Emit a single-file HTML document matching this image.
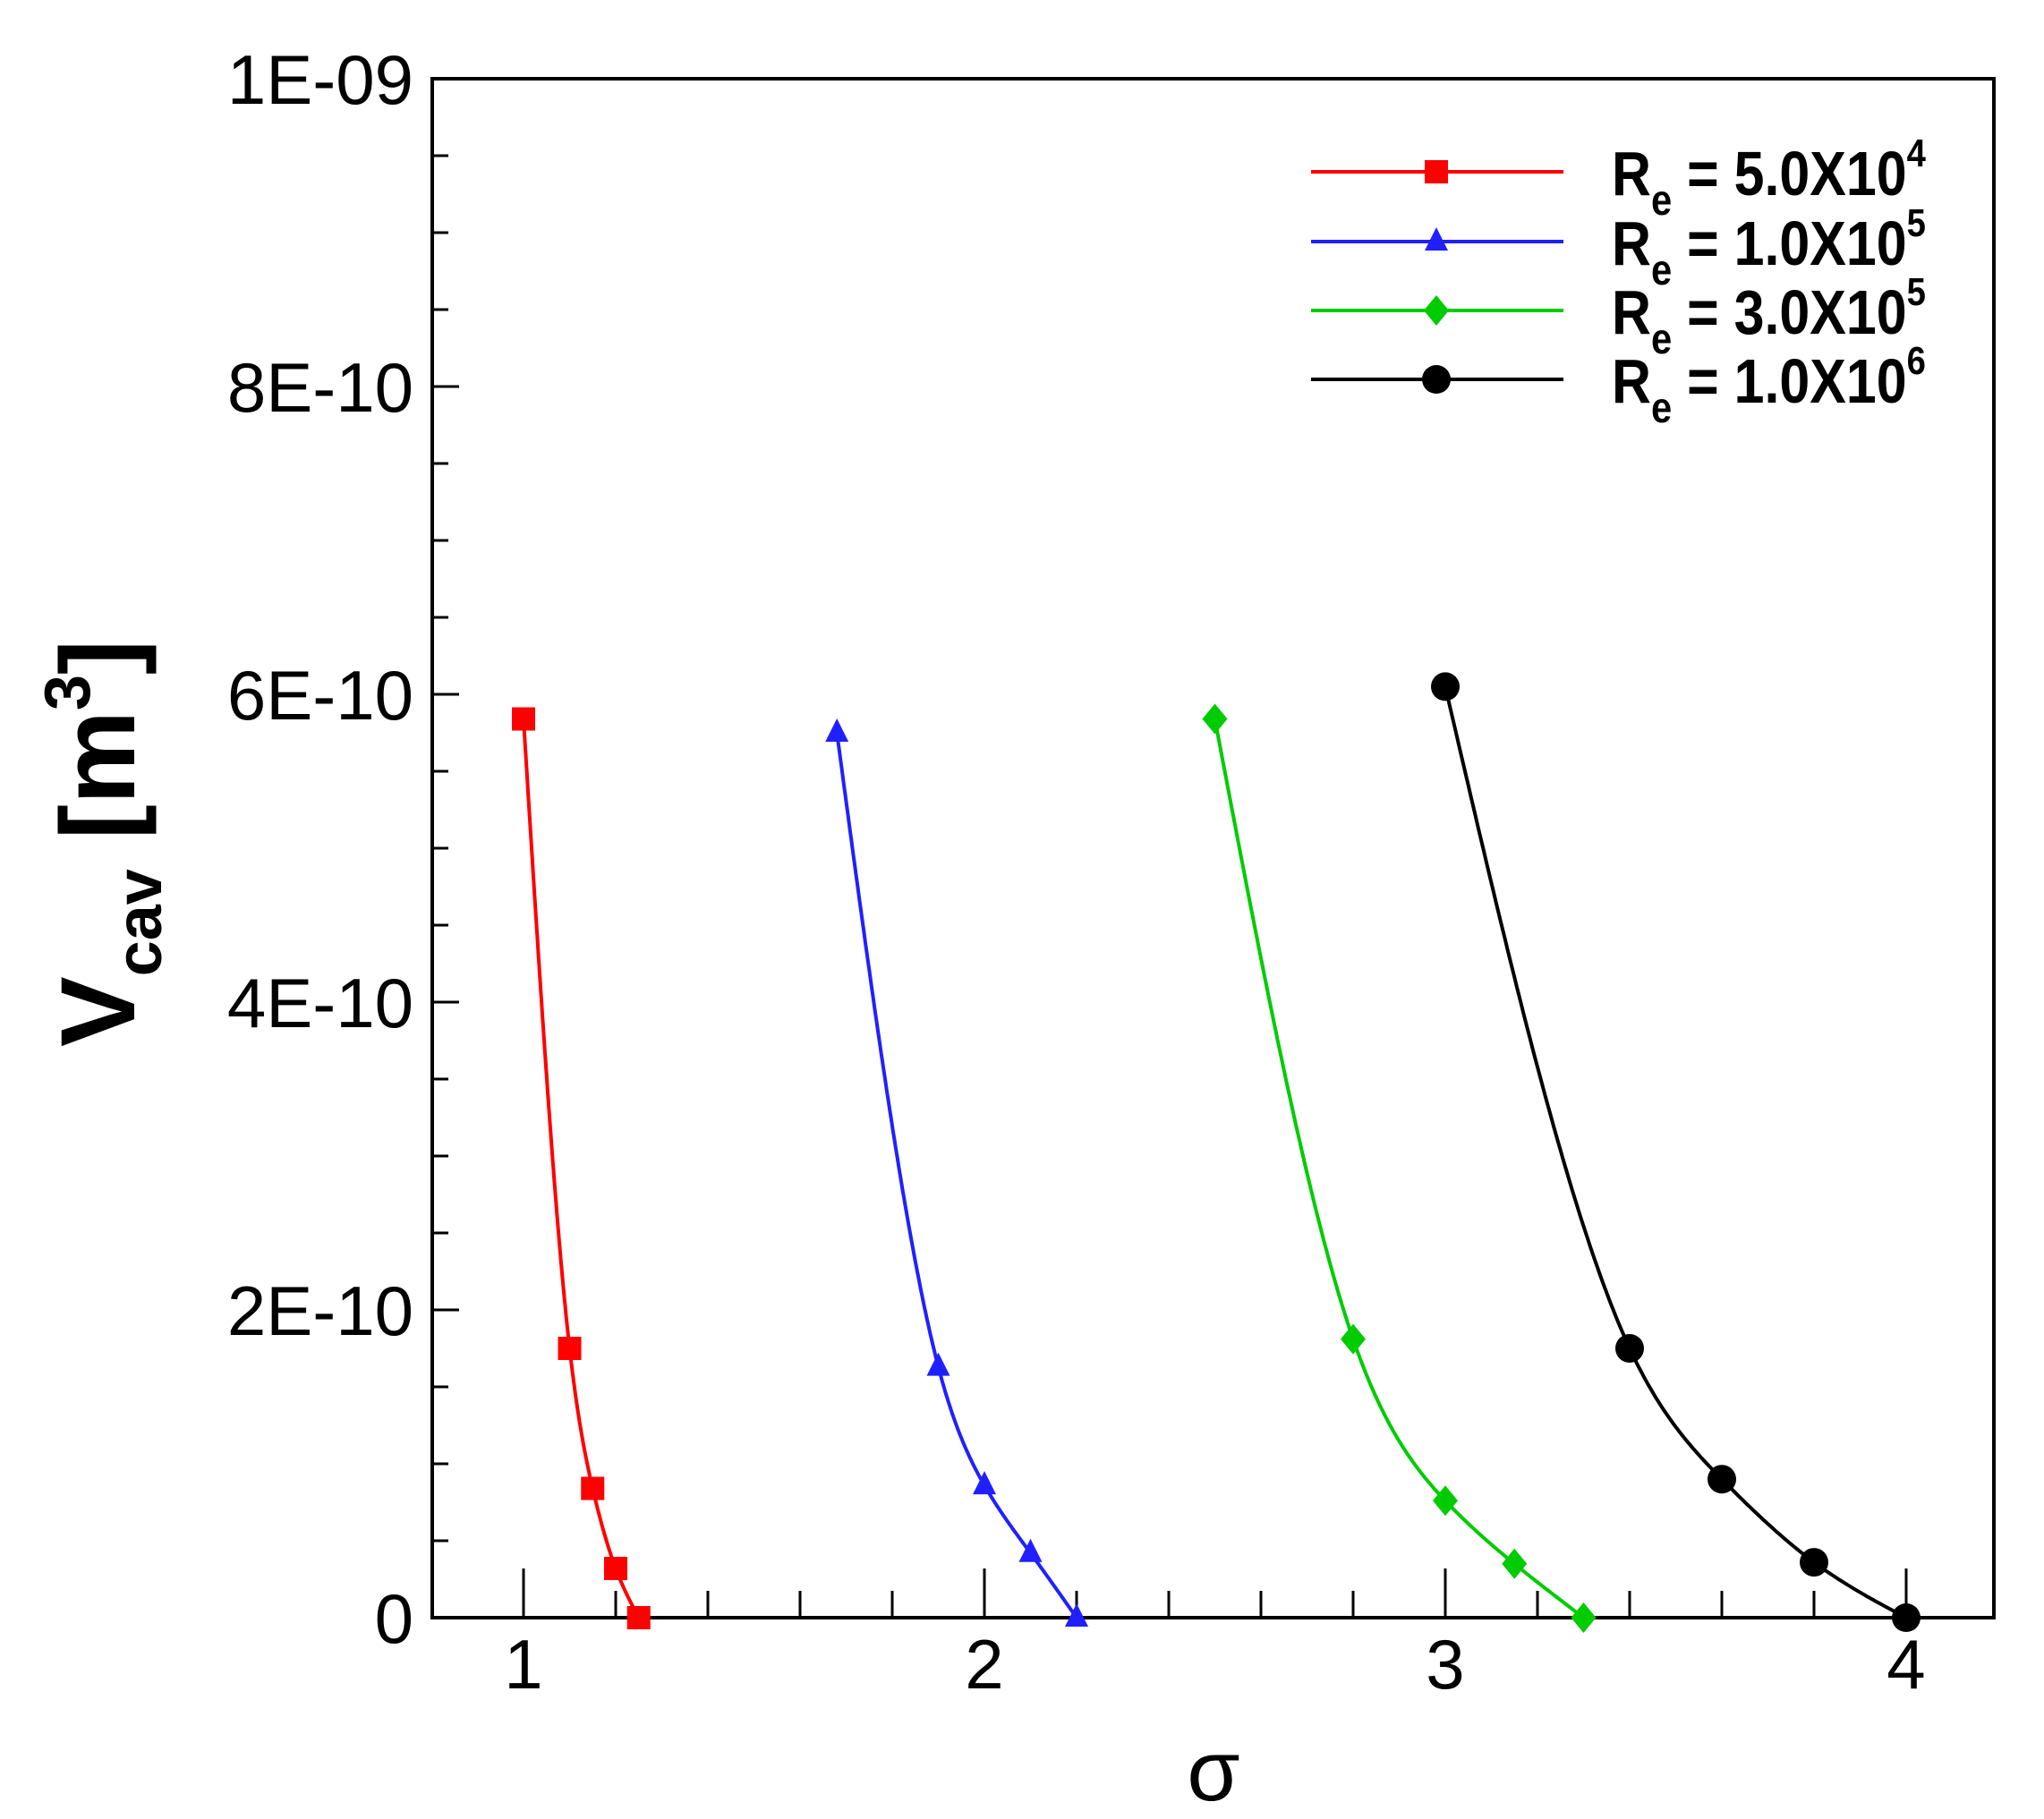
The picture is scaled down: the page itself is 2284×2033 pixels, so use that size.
<!DOCTYPE html>
<html><head><meta charset="utf-8"><style>
html,body{margin:0;padding:0;background:#fff}
svg{display:block}
text{font-family:"Liberation Sans",Arial,sans-serif}
</style></head><body>
<svg id="s" width="2284" height="2033" viewBox="0 0 2284 2033" xmlns="http://www.w3.org/2000/svg">
<rect width="2284" height="2033" fill="#fff"/>
<g id="ticks" stroke="#000" stroke-width="3"></g>
<rect x="483" y="88" width="1745" height="1720" fill="none" stroke="#000" stroke-width="4"/>
<g font-size="78" text-anchor="end">
<text x="462" y="1836">0</text>
<text x="462" y="1492">2E-10</text>
<text x="462" y="1148">4E-10</text>
<text x="462" y="804">6E-10</text>
<text x="462" y="460">8E-10</text>
<text x="462" y="116">1E-09</text>
</g>
<g font-size="78" text-anchor="middle">
<text x="585" y="1887">1</text>
<text x="1100" y="1887">2</text>
<text x="1615" y="1887">3</text>
<text x="2130" y="1887">4</text>
</g>
<text x="1356" y="2012" font-size="96" text-anchor="middle">σ</text>
<text transform="translate(150,1170) rotate(-90)" font-size="118" font-weight="bold">V<tspan font-size="72" dy="30">cav</tspan><tspan dy="-30"> [m</tspan><tspan font-size="72" dy="-50">3</tspan><tspan dy="50">]</tspan></text>
<g id="series"></g>
<g font-size="70" font-weight="bold" transform="translate(1801,0) scale(0.87,1)">
<text x="0" y="218">R<tspan font-size="48" dy="22">e</tspan><tspan dy="-22"> = 5.0X10</tspan><tspan font-size="44" dy="-32">4</tspan></text>
<text x="0" y="296">R<tspan font-size="48" dy="22">e</tspan><tspan dy="-22"> = 1.0X10</tspan><tspan font-size="44" dy="-32">5</tspan></text>
<text x="0" y="373">R<tspan font-size="48" dy="22">e</tspan><tspan dy="-22"> = 3.0X10</tspan><tspan font-size="44" dy="-32">5</tspan></text>
<text x="0" y="450">R<tspan font-size="48" dy="22">e</tspan><tspan dy="-22"> = 1.0X10</tspan><tspan font-size="44" dy="-32">6</tspan></text>
</g>
</svg>
<script>
var NS="http://www.w3.org/2000/svg";
function el(t,a,p){var e=document.createElementNS(NS,t);for(var k in a)e.setAttribute(k,a[k]);p.appendChild(e);return e;}
var X=function(s){return 585+(s-1)*515;}, Y=function(v){return 1808-v*1720;};
var tk=document.getElementById('ticks');
for(var i=0;i<=20;i++){var y=1808-i*1720/20;var L=(i%4==0)?30:18;el('line',{x1:483,y1:y,x2:483+L,y2:y},tk);}
for(var s=1;s<=4.1001;s+=0.2){var x=X(s);var maj=Math.abs(s-Math.round(s))<1e-6;el('line',{x1:x,y1:1808,x2:x,y2:1808-(maj?55:30)},tk);}
var data=[
 {c:'#ff0000',m:'sq',p:[[1.0,.584],[1.1,.175],[1.15,.084],[1.2,.032],[1.25,0]]},
 {c:'#2020ff',m:'tri',p:[[1.68,.575],[1.9,.163],[2.0,.086],[2.1,.042],[2.2,0]]},
 {c:'#00cc00',m:'dia',p:[[2.5,.584],[2.8,.181],[3.0,.076],[3.15,.035],[3.3,0]]},
 {c:'#000000',m:'cir',p:[[3.0,.605],[3.4,.175],[3.6,.09],[3.8,.036],[4.0,0]]}
];
var g=document.getElementById('series');
function marker(m,x,y,c){
 if(m=='sq')el('rect',{x:x-13,y:y-13,width:26,height:26,fill:c},g);
 else if(m=='tri')el('polygon',{points:(x)+','+(y-16)+' '+(x-13)+','+(y+10)+' '+(x+13)+','+(y+10),fill:c},g);
 else if(m=='dia')el('polygon',{points:x+','+(y-17)+' '+(x+14)+','+y+' '+x+','+(y+17)+' '+(x-14)+','+y,fill:c},g);
 else el('circle',{cx:x,cy:y,r:16,fill:c},g);
}
function spline(xs,ys){
 var n=xs.length,h=[],a=[],l=[1],mu=[0],z=[0],c=new Array(n).fill(0),b=[],d=[];
 for(var i=0;i<n-1;i++)h[i]=xs[i+1]-xs[i];
 for(var i=1;i<n-1;i++)a[i]=3/h[i]*(ys[i+1]-ys[i])-3/h[i-1]*(ys[i]-ys[i-1]);
 for(var i=1;i<n-1;i++){l[i]=2*(xs[i+1]-xs[i-1])-h[i-1]*mu[i-1];mu[i]=h[i]/l[i];z[i]=(a[i]-h[i-1]*z[i-1])/l[i];}
 for(var j=n-2;j>=0;j--){c[j]=(j>0?z[j]:0)-mu[j]*c[j+1];b[j]=(ys[j+1]-ys[j])/h[j]-h[j]*(c[j+1]+2*c[j])/3;d[j]=(c[j+1]-c[j])/(3*h[j]);}
 return function(x){var j=0;while(j<n-2&&x>xs[j+1])j++;var t=x-xs[j];return ys[j]+b[j]*t+c[j]*t*t+d[j]*t*t*t;};
}
data.forEach(function(d){
 var xs=d.p.map(function(q){return q[0];}),ys=d.p.map(function(q){return q[1];});
 var f=spline(xs,ys),s='';
 var x0=xs[0],x1=xs[xs.length-1];
 for(var k=0;k<=200;k++){var xx=x0+(x1-x0)*k/200;s+=(k?'L':'M')+X(xx).toFixed(1)+','+Y(f(xx)).toFixed(1);}
 el('path',{d:s,fill:'none',stroke:d.c,'stroke-width':4},g);
 d.p.forEach(function(q){marker(d.m,X(q[0]),Y(q[1]),d.c);});
});
var ly=[192,270,347,424];
data.forEach(function(d,i){el('line',{x1:1465,y1:ly[i],x2:1747,y2:ly[i],stroke:d.c,'stroke-width':4},g);marker(d.m,1605,ly[i],d.c);});
</script>
</body></html>
